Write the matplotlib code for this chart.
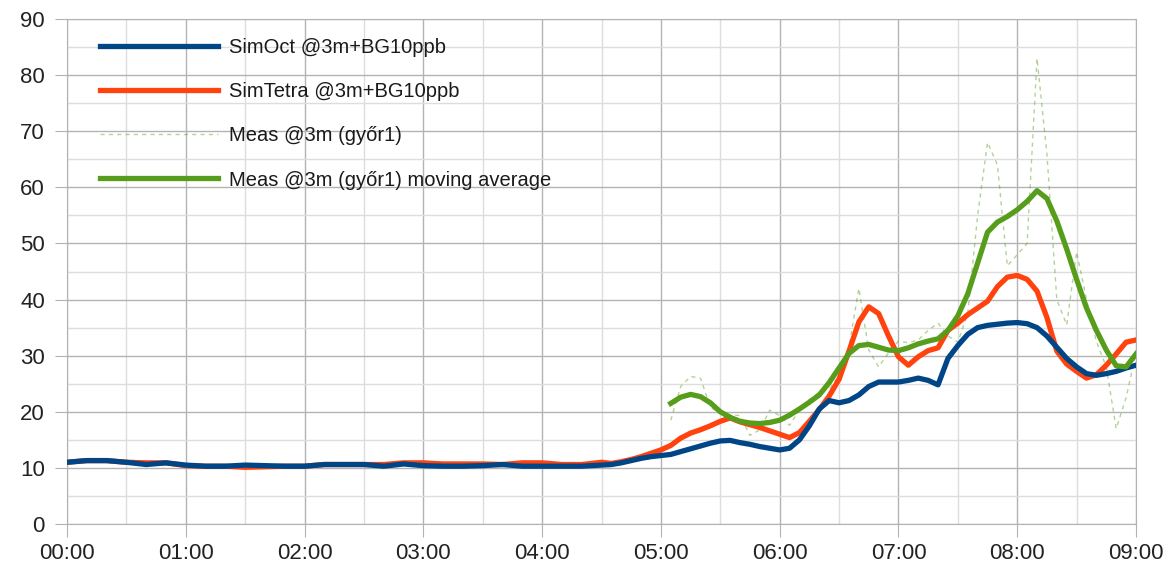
import numpy as np
import matplotlib
matplotlib.use("Agg")
import matplotlib.pyplot as plt

plt.rcParams['font.family'] = ['Liberation Sans', 'DejaVu Sans']

#time axis in minutes after midnight (finer steps once things start moving)
sim_minutes = list(range(0, 271, 10)) + list(range(275, 541, 5))
meas_minutes = list(range(305, 541, 5))

sim_oct = [11.0, 11.3, 11.3, 11.0, 10.6, 10.9, 10.5, 10.3, 10.3, 10.5,
           10.4, 10.3, 10.3, 10.6, 10.6, 10.6, 10.3, 10.7, 10.4, 10.3,
           10.3, 10.4, 10.6, 10.3, 10.3, 10.3, 10.3, 10.5,
           10.6, 10.9, 11.3, 11.7, 12.0, 12.2, 12.4, 12.9, 13.4, 13.9,
           14.4, 14.8, 14.9, 14.5, 14.2, 13.8, 13.5, 13.2, 13.5, 15.0,
           17.5, 20.5, 22.0, 21.6, 22.0, 23.0, 24.5, 25.3, 25.3, 25.3,
           25.6, 26.0, 25.6, 24.8, 29.5, 31.8, 33.8, 35.0, 35.4, 35.6,
           35.8, 35.9, 35.7, 35.0, 33.5, 31.5, 29.5, 28.0, 26.8, 26.5,
           26.8, 27.2, 27.8, 28.3]

sim_tetra = [11.0, 11.3, 11.3, 11.0, 10.9, 10.9, 10.4, 10.3, 10.3, 10.1,
             10.2, 10.3, 10.3, 10.6, 10.6, 10.6, 10.6, 10.9, 10.9, 10.7,
             10.7, 10.7, 10.6, 10.9, 10.9, 10.6, 10.6, 11.0,
             10.8, 11.1, 11.5, 12.0, 12.6, 13.2, 14.0, 15.3, 16.2, 16.8,
             17.5, 18.3, 18.9, 18.2, 17.7, 17.2, 16.6, 16.0, 15.4, 16.3,
             18.3, 20.4, 22.8, 25.8, 30.8, 36.0, 38.7, 37.5, 33.5, 29.8,
             28.3, 29.8, 30.9, 31.4, 34.5, 35.8, 37.3, 38.5, 39.7, 42.3,
             44.0, 44.3, 43.6, 41.5, 36.8, 30.8, 28.5, 27.2, 26.0, 26.6,
             28.3, 30.3, 32.4, 32.8]

meas = [18.5, 24.5, 26.3, 26.0, 20.8, 19.7, 19.5, 19.3, 15.8, 16.8,
        20.3, 19.3, 17.6, 20.3, 22.2, 23.5, 24.0, 26.5, 31.5, 42.0,
        31.0, 28.0, 30.5, 32.6, 32.3, 32.8, 34.5, 35.8, 33.5, 32.4,
        37.5, 55.0, 68.0, 64.0, 46.0, 48.0, 50.0, 83.0, 66.0, 40.0,
        35.5, 48.5, 40.0, 32.5, 28.0, 17.0, 22.5, 30.5]

meas_avg = [21.5, 22.6, 23.1, 22.7, 21.6, 20.0, 19.0, 18.3, 18.0, 17.9,
            18.1, 18.5, 19.4, 20.5, 21.7, 23.0, 25.2, 27.8, 30.4, 31.8,
            32.0, 31.5, 31.0, 30.9, 31.4, 32.1, 32.6, 33.0, 34.5, 37.1,
            41.0, 46.5, 52.0, 53.8, 54.8, 56.0, 57.5, 59.4, 58.0, 54.0,
            49.0, 43.6, 38.5, 34.5, 31.0, 28.2, 28.0, 30.3]

hour_labels = ["00:00", "01:00", "02:00", "03:00", "04:00",
               "05:00", "06:00", "07:00", "08:00", "09:00"]

fig = plt.figure(figsize=(11.75, 5.77), dpi=100)
ax = fig.add_axes([67/1175, 53/577, (1136-67)/1175, (524-19)/577])

ax.plot(sim_minutes, sim_oct, color='#004586', lw=3.8, label='SimOct @3m+BG10ppb', zorder=4)
ax.plot(sim_minutes, sim_tetra, color='#ff420e', lw=3.8, label='SimTetra @3m+BG10ppb', zorder=3)
ax.plot(meas_minutes, meas, color='#579d1c', alpha=0.45, lw=1.0, linestyle=(0, (3, 3)),
        label='Meas @3m (győr1)', zorder=2)
ax.plot(meas_minutes, meas_avg, color='#579d1c', lw=3.8, label='Meas @3m (győr1) moving average', zorder=5)

#axes, ticks and grid
ax.set_xlim(0, 540)
ax.set_ylim(0, 90)
ax.set_xticks(np.arange(0, 541, 60))
ax.set_xticklabels(hour_labels)
ax.set_xticks(np.arange(30, 541, 60), minor=True)
ax.set_yticks(np.arange(0, 91, 10))
ax.set_yticks(np.arange(5, 91, 10), minor=True)

ax.grid(which='major', color='#b3b3b3', lw=1.0)
ax.grid(which='minor', color='#dddddd', lw=1.0)
ax.set_axisbelow(True)
for s in ax.spines.values():
    s.set_color('#b3b3b3')
ax.tick_params(which='major', length=9, color='#b3b3b3', labelsize=16, labelcolor='#222222')
ax.tick_params(axis='x', pad=5)
ax.tick_params(axis='y', pad=7)
ax.tick_params(which='minor', length=0)

fig.legend(loc='upper left', bbox_to_anchor=(100/1175, 1-38/577), frameon=False,
           fontsize=14.5, handlelength=5.85, handletextpad=0.55, labelspacing=1.25,
           borderpad=0, borderaxespad=0, labelcolor='#1a1a1a')

plt.savefig('out.png', dpi=100)
